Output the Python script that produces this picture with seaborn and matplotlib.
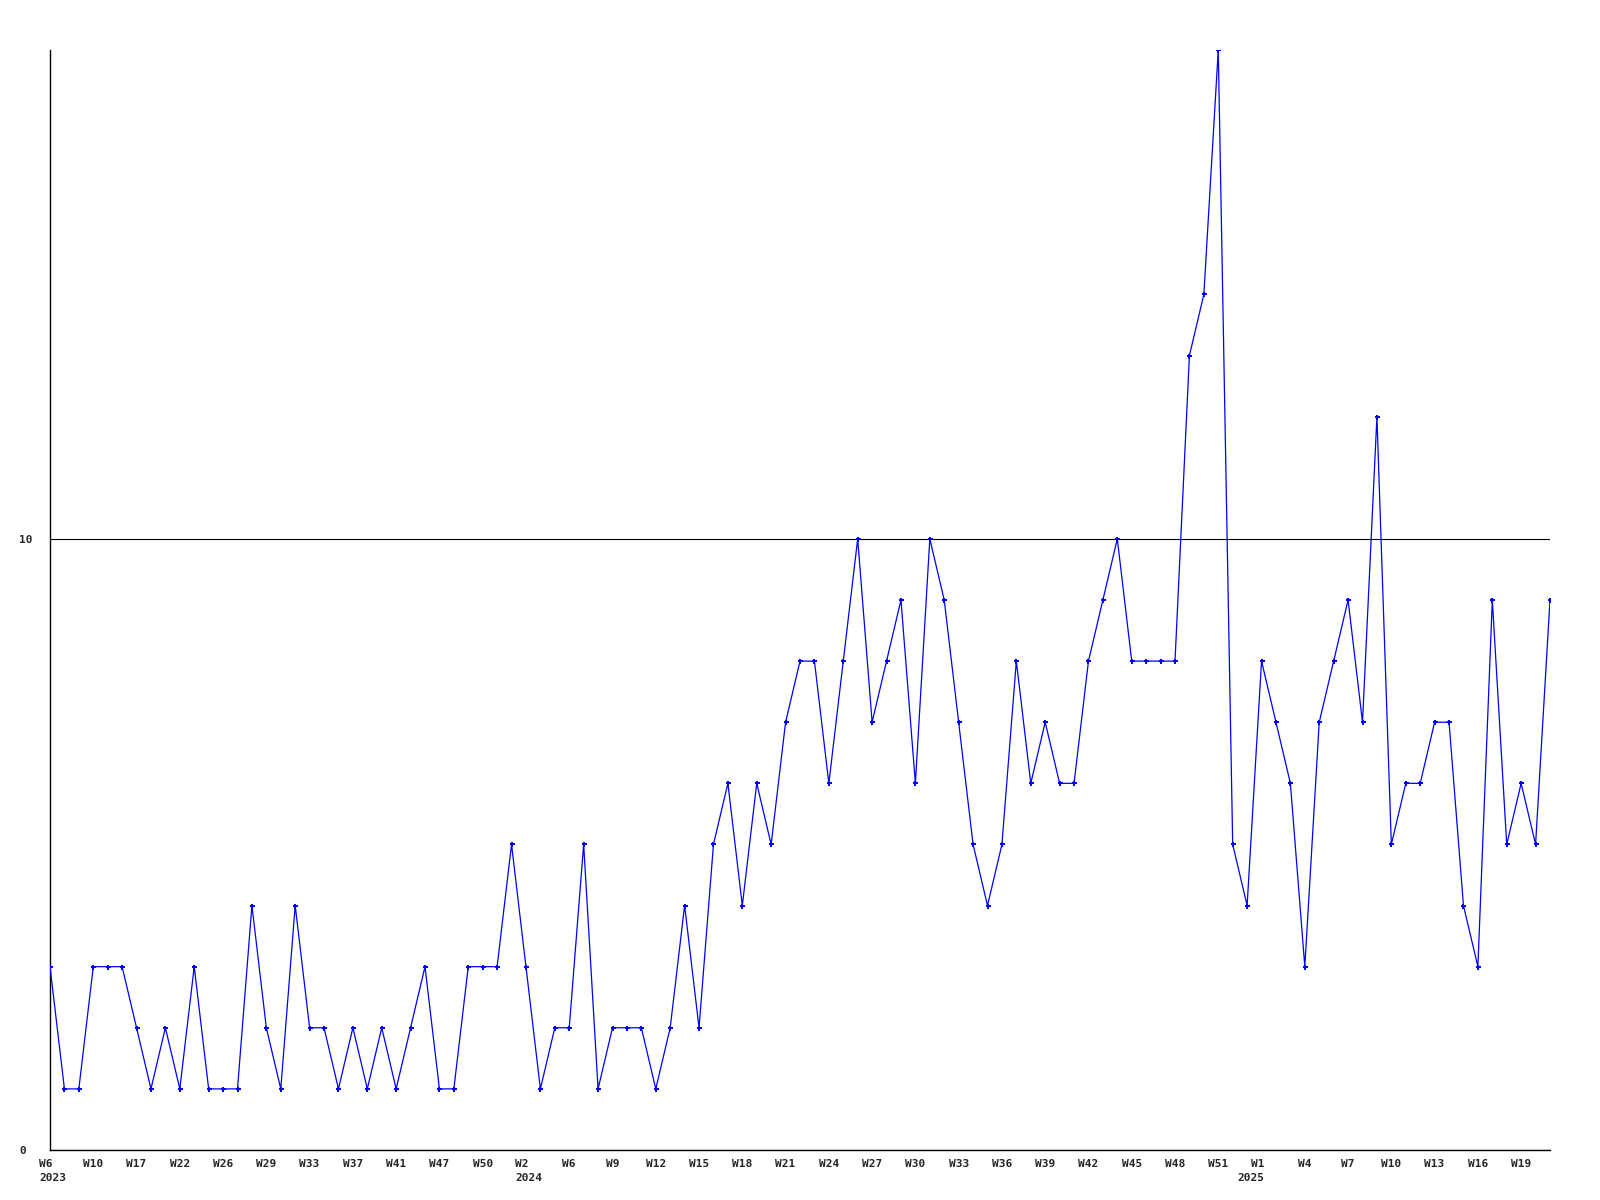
import matplotlib
matplotlib.use("Agg")
import matplotlib.pyplot as plt
import seaborn as sns
import pandas as pd

# weekly counts, one per plotted point (weeks without data are skipped)
values = [3, 1, 1, 3, 3, 3, 2, 1, 2, 1,
          3, 1, 1, 1, 4, 2, 1, 4, 2, 2,
          1, 2, 1, 2, 1, 2, 3, 1, 1, 3,
          3, 3, 5, 3, 1, 2, 2, 5, 1, 2,
          2, 2, 1, 2, 4, 2, 5, 6, 4, 6,
          5, 7, 8, 8, 6, 8, 10, 7, 8, 9,
          6, 10, 9, 7, 5, 4, 5, 8, 6, 7,
          6, 6, 8, 9, 10, 8, 8, 8, 8, 13,
          14, 18, 5, 4, 8, 7, 6, 3, 7, 8,
          9, 7, 12, 5, 6, 6, 7, 7, 4, 3,
          9, 5, 6, 5, 9]

# a label on every third point
week_labels = ["W6", "W10", "W17", "W22", "W26", "W29", "W33", "W37", "W41",
               "W47", "W50", "W2", "W6", "W9", "W12", "W15", "W18", "W21",
               "W24", "W27", "W30", "W33", "W36", "W39", "W42", "W45", "W48", "W51",
               "W1", "W4", "W7", "W10", "W13", "W16", "W19"]
# year shown under these labels (index into week_labels)
year_marks = {0: "2023", 11: "2024", 28: "2025"}
label_step = 3

y_ticks = [0, 10]
y_max = 18

df = pd.DataFrame({"idx": range(len(values)), "count": values})

sns.set_style("white")
plt.rcParams["font.family"] = ["DejaVu Sans Mono"]
plt.rcParams["font.weight"] = "bold"

fig = plt.figure(figsize=(16, 12), dpi=100)
ax = fig.add_axes([50 / 1600, 50 / 1200, 1500 / 1600, 1100 / 1200])

sns.lineplot(data=df, x="idx", y="count", ax=ax, color="#0000ff", linewidth=0.9,
             marker="P", markersize=3.6, markeredgewidth=0, zorder=3)

ax.set_xlim(0, len(values) - 1)
ax.set_ylim(0, y_max)

ax.set_yticks(y_ticks)
ax.set_yticklabels([str(t) for t in y_ticks], fontsize=8, fontweight="bold", ha="left")
ax.yaxis.grid(True, color="black", linewidth=0.8)
ax.xaxis.grid(False)

tick_pos = [i * label_step for i in range(len(week_labels))]
ax.set_xticks(tick_pos)
# year-marked labels are drawn by hand below
ax.set_xticklabels(["" if k in year_marks else w for k, w in enumerate(week_labels)],
                   fontsize=8, fontweight="bold", va="top")

px = 0.72  # points per pixel at 100 dpi
for k, year in year_marks.items():
    x = tick_pos[k]
    if year == "2025":
        ha, dx = "right", 3 * px
    else:
        ha, dx = "left", -11 * px
    ax.annotate(week_labels[k], xy=(x, 0), xycoords=("data", "axes fraction"),
                xytext=(dx, -9 * px), textcoords="offset points",
                ha=ha, va="top", fontsize=8, fontweight="bold")
    ax.annotate(year, xy=(x, 0), xycoords=("data", "axes fraction"),
                xytext=(dx, -23 * px), textcoords="offset points",
                ha=ha, va="top", fontsize=8, fontweight="bold")

ax.tick_params(axis="both", length=0)
ax.tick_params(axis="y", pad=22)
ax.tick_params(axis="x", pad=6.5)

for side in ["top", "right"]:
    ax.spines[side].set_visible(False)
for side in ["left", "bottom"]:
    ax.spines[side].set_color("black")
    ax.spines[side].set_linewidth(1.0)

ax.set_xlabel(None)
ax.set_ylabel(None)

fig.savefig("out.png", dpi=100, facecolor="white")
